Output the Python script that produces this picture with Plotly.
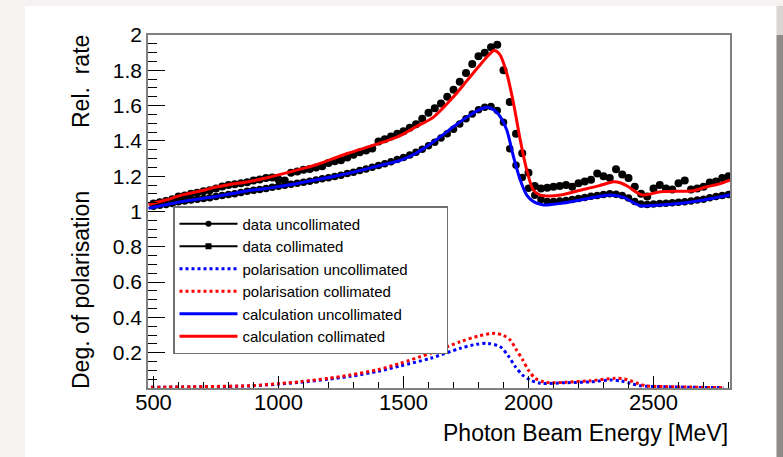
import plotly.graph_objects as go

# ---------------- data ----------------
energy_data = [500, 525, 550, 575, 600, 625, 650, 675, 700, 725, 750, 775, 800, 825, 850, 875,
               900, 925, 950, 975, 1000, 1025, 1050, 1075, 1100, 1125, 1150, 1175, 1200, 1225,
               1250, 1275, 1300, 1325, 1350, 1375, 1400, 1425, 1450, 1475, 1500, 1525, 1550,
               1575, 1600, 1625, 1650, 1675, 1700, 1725, 1750, 1775, 1800, 1825, 1850, 1875,
               1900, 1925, 1950, 1975, 2000, 2025, 2050, 2075, 2100, 2125, 2150, 2175, 2200,
               2225, 2250, 2275, 2300, 2325, 2350, 2375, 2400, 2425, 2450, 2475, 2500, 2525,
               2550, 2575, 2600, 2625, 2650, 2675, 2700, 2725, 2750, 2775, 2800]

data_uncollimated = [1.030, 1.035, 1.040, 1.046, 1.055, 1.060, 1.065, 1.070, 1.073, 1.078, 1.085,
                     1.090, 1.096, 1.101, 1.108, 1.115, 1.120, 1.125, 1.131, 1.137, 1.143, 1.149,
                     1.155, 1.160, 1.166, 1.172, 1.179, 1.186, 1.191, 1.198, 1.206, 1.215, 1.223,
                     1.232, 1.241, 1.251, 1.261, 1.271, 1.282, 1.294, 1.306, 1.320, 1.336, 1.352,
                     1.372, 1.392, 1.416, 1.441, 1.466, 1.496, 1.526, 1.552, 1.576, 1.590, 1.595,
                     1.572, 1.505, 1.355, 1.262, 1.192, 1.132, 1.092, 1.068, 1.057, 1.056, 1.059,
                     1.063, 1.068, 1.073, 1.079, 1.086, 1.091, 1.096, 1.100, 1.098, 1.090, 1.076,
                     1.056, 1.042, 1.040, 1.043, 1.045, 1.047, 1.050, 1.052, 1.055, 1.060, 1.065,
                     1.070, 1.078, 1.085, 1.090, 1.097]

data_collimated = [1.045, 1.052, 1.060, 1.070, 1.085, 1.090, 1.100, 1.106, 1.115, 1.121, 1.130,
                   1.141, 1.150, 1.155, 1.160, 1.166, 1.176, 1.181, 1.190, 1.192, 1.182, 1.176,
                   1.220, 1.226, 1.236, 1.241, 1.250, 1.256, 1.275, 1.285, 1.291, 1.306, 1.322,
                   1.336, 1.346, 1.357, 1.397, 1.410, 1.425, 1.441, 1.455, 1.475, 1.495, 1.525,
                   1.560, 1.585, 1.612, 1.650, 1.690, 1.735, 1.785, 1.835, 1.880, 1.900, 1.930,
                   1.945, 1.800, 1.620, 1.440, 1.330, 1.220, 1.145, 1.130, 1.135, 1.140, 1.145,
                   1.150, 1.140, 1.160, 1.170, 1.180, 1.215, 1.200, 1.190, 1.240, 1.210, 1.190,
                   1.140, 1.100, 1.085, 1.130, 1.150, 1.130, 1.125, 1.160, 1.175, 1.125, 1.130,
                   1.140, 1.165, 1.170, 1.190, 1.200]

energy_calc_coll = [480, 550, 612, 700, 745, 800, 879, 950, 1012, 1080, 1146, 1210, 1279, 1350,
                    1412, 1487, 1550, 1620, 1700, 1753, 1800, 1840, 1862, 1885, 1913, 1940, 1967,
                    1993, 2020, 2047, 2087, 2127, 2207, 2280, 2340, 2367, 2400, 2430, 2460, 2527,
                    2600, 2660, 2713, 2760, 2806]
calc_collimated = [1.040, 1.065, 1.093, 1.120, 1.137, 1.152, 1.169, 1.190, 1.212, 1.237, 1.263,
                   1.295, 1.330, 1.362, 1.390, 1.430, 1.480, 1.535, 1.650, 1.740, 1.820, 1.885,
                   1.912, 1.890, 1.783, 1.613, 1.405, 1.235, 1.120, 1.093, 1.088, 1.093, 1.120,
                   1.145, 1.169, 1.163, 1.140, 1.110, 1.093, 1.112, 1.115, 1.118, 1.140, 1.155,
                   1.178]

energy_calc_unc = [480, 550, 612, 700, 745, 810, 879, 950, 1012, 1080, 1146, 1210, 1279, 1350,
                   1412, 1487, 1550, 1620, 1700, 1753, 1800, 1836, 1862, 1887, 1913, 1940, 1967,
                   1993, 2020, 2060, 2127, 2207, 2280, 2330, 2380, 2420, 2447, 2527, 2600, 2660,
                   2740, 2806]
calc_uncollimated = [1.018, 1.038, 1.056, 1.075, 1.084, 1.100, 1.118, 1.130, 1.144, 1.160, 1.178,
                     1.196, 1.216, 1.240, 1.263, 1.290, 1.330, 1.395, 1.480, 1.534, 1.575, 1.590,
                     1.575, 1.537, 1.462, 1.310, 1.178, 1.093, 1.056, 1.037, 1.046, 1.065, 1.085,
                     1.093, 1.080, 1.050, 1.033, 1.037, 1.045, 1.056, 1.075, 1.093]

energy_pol_coll = [490, 700, 887, 1000, 1087, 1200, 1287, 1400, 1487, 1607, 1727, 1800, 1867,
                   1900, 1927, 1950, 1977, 2000, 2027, 2060, 2087, 2150, 2247, 2347, 2380, 2407,
                   2440, 2467, 2550, 2650, 2780]
pol_collimated = [0.004, 0.008, 0.013, 0.025, 0.036, 0.055, 0.074, 0.105, 0.140, 0.197, 0.262,
                  0.295, 0.310, 0.298, 0.272, 0.220, 0.159, 0.100, 0.055, 0.035, 0.030, 0.033,
                  0.041, 0.055, 0.052, 0.041, 0.025, 0.013, 0.008, 0.005, 0.002]

energy_pol_unc = [490, 700, 887, 1000, 1087, 1200, 1287, 1400, 1487, 1607, 1727, 1790, 1837,
                  1887, 1920, 1947, 1975, 2007, 2047, 2150, 2247, 2327, 2370, 2407, 2447, 2550,
                  2650, 2780]
pol_uncollimated = [0.004, 0.007, 0.012, 0.022, 0.032, 0.050, 0.066, 0.095, 0.125, 0.168, 0.225,
                    0.247, 0.253, 0.234, 0.180, 0.121, 0.075, 0.045, 0.027, 0.030, 0.035, 0.045,
                    0.040, 0.027, 0.013, 0.007, 0.004, 0.002]

legend_names = ["data uncollimated", "data collimated", "polarisation uncollimated",
                "polarisation collimated", "calculation uncollimated", "calculation collimated"]

y_tick_vals = [0.2, 0.4, 0.6, 0.8, 1.0, 1.2, 1.4, 1.6, 1.8, 2.0]
y_tick_text = ["0.2", "0.4", "0.6", "0.8", "1", "1.2", "1.4", "1.6", "1.8", "2"]
x_tick_vals = [500, 1000, 1500, 2000, 2500]

FONT = "Liberation Sans, Arial, Helvetica, sans-serif"
RED = "#ff0000"
BLUE = "#0000ff"
PAD = "&nbsp;" * 8  # widens the legend box like the reference

fig = go.Figure()

# data points
fig.add_trace(go.Scatter(x=energy_data, y=data_uncollimated, mode="markers",
                         marker=dict(symbol="circle", size=7.5, color="black"),
                         error_y=dict(type="constant", value=0.012, color="black",
                                      thickness=1.5, width=0),
                         showlegend=False))
fig.add_trace(go.Scatter(x=energy_data, y=data_collimated, mode="markers",
                         marker=dict(symbol="circle", size=8, color="black"),
                         error_y=dict(type="constant", value=0.016, color="black",
                                      thickness=1.5, width=0),
                         showlegend=False))

# legend-only entries for data
fig.add_trace(go.Scatter(x=[None], y=[None], mode="lines+markers", name=legend_names[0],
                         line=dict(color="black", width=2),
                         marker=dict(symbol="circle", size=6, color="black"), legendrank=1))
fig.add_trace(go.Scatter(x=[None], y=[None], mode="lines+markers", name=legend_names[1],
                         line=dict(color="black", width=2),
                         marker=dict(symbol="square", size=6, color="black"), legendrank=2))

# polarisation
fig.add_trace(go.Scatter(x=energy_pol_unc, y=pol_uncollimated, mode="lines",
                         name=legend_names[2] + PAD, legendrank=3,
                         line=dict(color=BLUE, width=3, dash="3px,3px", shape="spline",
                                   smoothing=0.8)))
fig.add_trace(go.Scatter(x=energy_pol_coll, y=pol_collimated, mode="lines",
                         name=legend_names[3], legendrank=4,
                         line=dict(color=RED, width=3, dash="3px,3px", shape="spline",
                                   smoothing=0.8)))

# calculation
fig.add_trace(go.Scatter(x=energy_calc_unc, y=calc_uncollimated, mode="lines",
                         name=legend_names[4], legendrank=5,
                         line=dict(color=BLUE, width=3, shape="spline", smoothing=0.8)))
fig.add_trace(go.Scatter(x=energy_calc_coll, y=calc_collimated, mode="lines",
                         name=legend_names[5], legendrank=6,
                         line=dict(color=RED, width=3, shape="spline", smoothing=0.8)))

# plot geometry (pixels)
L, R, T, B = 148, 53, 35, 69
W, H = 783, 457
pw, ph = W - L - R, H - T - B


def px(xp):
    return (xp - L) / pw


def py(yp):
    return (H - B - yp) / ph


shapes = [
    dict(type="rect", xref="paper", yref="paper", x0=px(25), x1=px(776.5), y0=py(457), y1=py(6),
         fillcolor="white", line=dict(width=0), layer="below"),
    dict(type="rect", xref="paper", yref="paper", x0=px(776.5), x1=px(783), y0=py(457), y1=py(35),
         fillcolor="#8f8b8a", line=dict(width=0), layer="below"),
    dict(type="rect", xref="paper", yref="paper", x0=px(776.5), x1=px(783), y0=py(35), y1=py(6),
         fillcolor="#d8d5d4", line=dict(width=0), layer="below"),
]

annotations = [
    dict(text="Photon Beam Energy [MeV]", xref="paper", yref="paper", x=1.0, y=py(448),
         xanchor="right", yanchor="bottom", showarrow=False,
         font=dict(family=FONT, size=23, color="black")),
    dict(text="Rel.  rate", xref="paper", yref="paper", x=px(81), y=py(82), textangle=-90,
         xanchor="center", yanchor="middle", showarrow=False,
         font=dict(family=FONT, size=23, color="black")),
    dict(text="Deg. of polarisation", xref="paper", yref="paper", x=px(81), y=py(290),
         textangle=-90, xanchor="center", yanchor="middle", showarrow=False,
         font=dict(family=FONT, size=23, color="black")),
]

fig.update_layout(
    width=W, height=H,
    margin=dict(l=L, r=R, t=T, b=B, pad=0),
    paper_bgcolor="#f6f2f1",
    plot_bgcolor="white",
    font=dict(family=FONT, color="black"),
    shapes=shapes,
    annotations=annotations,
    legend=dict(x=px(173), y=py(206), xanchor="left", yanchor="top",
                bgcolor="white", bordercolor="#707070", borderwidth=1.5,
                font=dict(family=FONT, size=15, color="black"),
                itemwidth=58, tracegroupgap=0, traceorder="normal"),
    xaxis=dict(range=[478, 2806], tickvals=x_tick_vals, ticks="inside", ticklen=12,
               tickwidth=1, tickcolor="black", showgrid=False, zeroline=False,
               showline=True, linecolor="#808080", linewidth=1.5, mirror=True,
               ticklabelstandoff=-6,
               tickfont=dict(family=FONT, size=22, color="black"),
               minor=dict(dtick=100, ticks="inside", ticklen=6, tickcolor="black",
                          tickwidth=1, showgrid=False)),
    yaxis=dict(range=[0, 2], tickvals=y_tick_vals, ticktext=y_tick_text, ticks="inside",
               ticklen=17, tickwidth=1, tickcolor="black", showgrid=False, zeroline=False,
               showline=True, linecolor="#808080", linewidth=1.5, mirror=True,
               tickfont=dict(family=FONT, size=21, color="black"),
               minor=dict(tickvals=[round(0.05 * i, 2) for i in range(1, 40)],
                          ticks="inside", ticklen=9, tickcolor="black", tickwidth=1,
                          showgrid=False)),
)

fig.write_html("out.html")
